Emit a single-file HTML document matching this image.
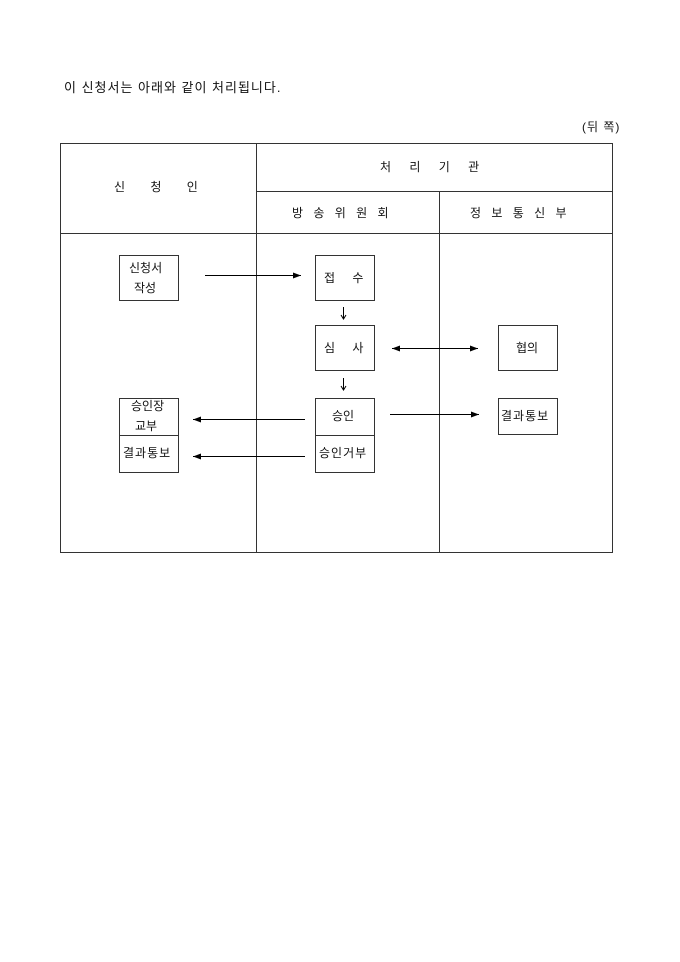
<!DOCTYPE html>
<html><head><meta charset="utf-8"><style>
body{margin:0;background:#fff;width:680px;height:962px;position:relative;font-family:"Liberation Sans","Noto Sans CJK KR","NanumGothic",sans-serif;color:#111;}
.t{position:absolute;font-size:12px;white-space:nowrap;line-height:1;}
svg{position:absolute;left:0;top:0;}
</style></head><body>
<div class="t" style="left:64px;top:81px;font-size:13px;letter-spacing:1px;">이 신청서는 아래와 같이 처리됩니다.</div>
<div class="t" style="left:582px;top:121px;letter-spacing:1px;">(뒤 쪽)</div>
<svg width="680" height="962">
<defs><marker id="a" markerWidth="8" markerHeight="6" refX="8" refY="3" orient="auto"><path d="M0,0L8,3L0,6z" fill="#000"/></marker>
<marker id="b" markerWidth="8" markerHeight="6" refX="0" refY="3" orient="auto"><path d="M8,0L0,3L8,6z" fill="#000"/></marker></defs>
<g stroke="#333" stroke-width="1" fill="none">
<rect x="60.5" y="143.5" width="552" height="409"/>
<line x1="256.5" y1="143" x2="256.5" y2="552"/>
<line x1="439.5" y1="191" x2="439.5" y2="552"/>
<line x1="256" y1="191.5" x2="612" y2="191.5"/>
<line x1="60" y1="233.5" x2="612" y2="233.5"/>
<rect x="119.5" y="255.5" width="59" height="45"/>
<rect x="315.5" y="255.5" width="59" height="45"/>
<rect x="315.5" y="325.5" width="59" height="45"/>
<rect x="498.5" y="325.5" width="59" height="45"/>
<rect x="315.5" y="398.5" width="59" height="74"/>
<line x1="315" y1="435.5" x2="374" y2="435.5"/>
<rect x="119.5" y="398.5" width="59" height="74"/>
<line x1="119" y1="435.5" x2="178" y2="435.5"/>
<rect x="498.5" y="398.5" width="59" height="36"/>
</g>
<g stroke="#000" stroke-width="1">
<line x1="205" y1="275.5" x2="301" y2="275.5" marker-end="url(#a)"/>
<line x1="392" y1="348.5" x2="478" y2="348.5" marker-end="url(#a)" marker-start="url(#b)"/>
<line x1="390" y1="414.5" x2="479" y2="414.5" marker-end="url(#a)"/>
<line x1="305" y1="419.5" x2="193" y2="419.5" marker-end="url(#a)"/>
<line x1="305" y1="456.5" x2="193" y2="456.5" marker-end="url(#a)"/>
<line x1="343.5" y1="307" x2="343.5" y2="318"/>
<path d="M341,315L343.5,319L346,315" fill="none"/>
<line x1="343.5" y1="378" x2="343.5" y2="389"/>
<path d="M341,386L343.5,390L346,386" fill="none"/>
</g>
</svg>
<div class="t" style="left:114px;top:181px;word-spacing:22px;">신 청 인</div>
<div class="t" style="left:380px;top:161px;word-spacing:15px;">처 리 기 관</div>
<div class="t" style="left:292px;top:207px;word-spacing:7px;">방 송 위 원 회</div>
<div class="t" style="left:470px;top:207px;word-spacing:7px;">정 보 통 신 부</div>
<div class="t" style="left:129px;top:262px;">신청서</div>
<div class="t" style="left:134px;top:282px;">작성</div>
<div class="t" style="left:324px;top:272px;word-spacing:14px;">접 수</div>
<div class="t" style="left:324px;top:342px;word-spacing:14px;">심 사</div>
<div class="t" style="left:516px;top:342px;">협의</div>
<div class="t" style="left:332px;top:410px;">승인</div>
<div class="t" style="left:319px;top:447px;letter-spacing:1px;">승인거부</div>
<div class="t" style="left:131px;top:400px;">승인장</div>
<div class="t" style="left:135px;top:420px;">교부</div>
<div class="t" style="left:123px;top:447px;letter-spacing:1px;">결과통보</div>
<div class="t" style="left:501px;top:410px;letter-spacing:1px;">결과통보</div>
</body></html>
